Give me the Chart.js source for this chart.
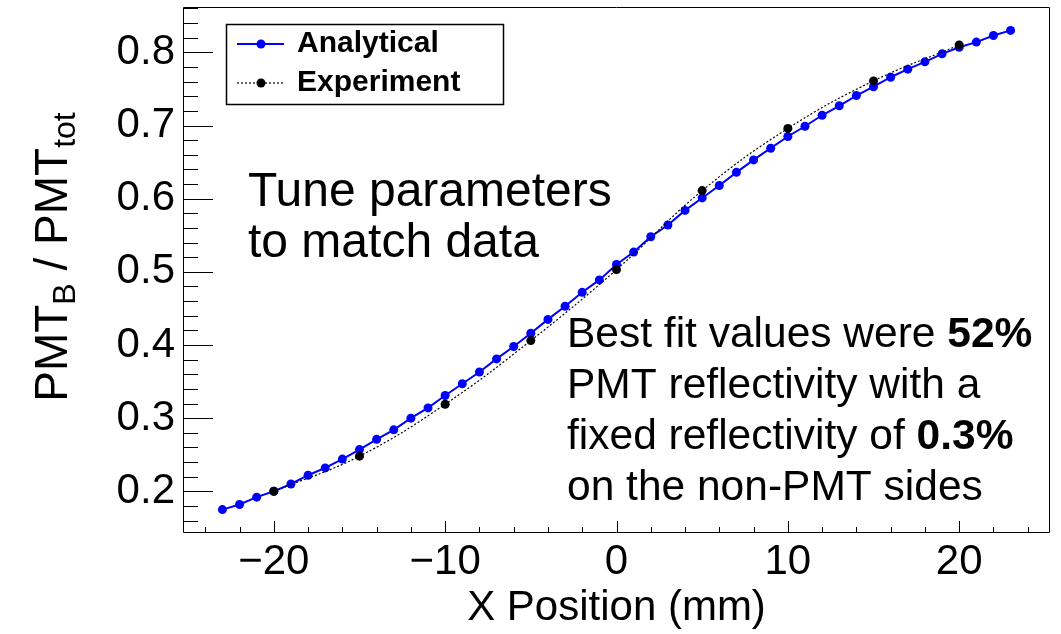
<!DOCTYPE html>
<html><head><meta charset="utf-8">
<script src="https://cdn.jsdelivr.net/npm/chart.js@4"></script>
<style>html,body{margin:0;padding:0;background:#fff;}#wrap{width:1061px;height:634px;}</style>
</head><body><div id="wrap"><canvas id="c" width="1061" height="634"></canvas></div>
<script>
// ---- data ----
const positions = [-23,-22,-21,-20,-19,-18,-17,-16,-15,-14,-13,-12,-11,-10,-9,-8,-7,-6,-5,-4,-3,-2,-1,0,1,2,3,4,5,6,7,8,9,10,11,12,13,14,15,16,17,18,19,20,21,22,23];
const analytical = [0.175,0.182,0.192,0.200,0.210,0.222,0.232,0.244,0.257,0.271,0.284,0.300,0.314,0.331,0.347,0.363,0.381,0.398,0.416,0.435,0.453,0.472,0.489,0.510,0.527,0.548,0.564,0.584,0.601,0.618,0.636,0.653,0.669,0.685,0.699,0.714,0.727,0.741,0.753,0.766,0.777,0.787,0.798,0.807,0.814,0.823,0.830];
const expPositions = [-20,-15,-10,-5,0,5,10,15,20];
const experiment = [0.200,0.248,0.319,0.406,0.503,0.611,0.696,0.761,0.810];
const xTickValues = [-20,-10,0,10,20];
const yTickValues = [0.2,0.3,0.4,0.5,0.6,0.7,0.8];
const seriesNames = ['Analytical','Experiment'];
const xTitle = 'X Position (mm)';
const yTitleParts = [['PMT',false],['B',true],[' / PMT',false],['tot',true]];
const noteLeft = ['Tune parameters','to match data'];
const noteRight = [
  [['Best fit values were ',false],['52%',true]],
  [['PMT reflectivity with a',false]],
  [['fixed reflectivity of ',false],['0.3%',true]],
  [['on the non-PMT sides',false]]
];

const FONT = '"Liberation Sans", Arial, Helvetica, sans-serif';
const X_MIN = -25.3, X_MAX = 25.3, Y_MIN = 0.143, Y_MAX = 0.862;

const rootPlugin = {
  id: 'rootStyle',
  afterDraw(chart) {
    const ctx = chart.ctx, a = chart.chartArea, xs = chart.scales.x, ys = chart.scales.y;
    ctx.save();
    // frame
    ctx.strokeStyle = '#000'; ctx.lineWidth = 1;
    ctx.beginPath();
    ctx.rect(Math.round(a.left) + 0.5, Math.round(a.top) + 0.5, Math.round(a.right - a.left) - 1, Math.round(a.bottom - a.top) - 1);
    ctx.stroke();
    // ticks (inward)
    ctx.beginPath();
    for (let v = -24; v <= 24; v += 2) {
      const px = Math.round(xs.getPixelForValue(v)) + 0.5;
      const len = xTickValues.includes(v) ? 12 : 6;
      ctx.moveTo(px, a.bottom); ctx.lineTo(px, a.bottom - len);
    }
    for (let i = 8; i <= 43; i++) {
      const v = i * 0.02;
      const py = Math.round(ys.getPixelForValue(v)) + 0.5;
      const major = i % 5 === 0;
      const len = major ? 30 : 15;
      ctx.moveTo(a.left, py); ctx.lineTo(a.left + len, py);
    }
    ctx.stroke();

    // y title (rotated, with subscripts)
    ctx.save();
    ctx.translate(67, 257);
    ctx.rotate(-Math.PI / 2);
    ctx.fillStyle = '#000';
    ctx.textBaseline = 'alphabetic';
    let total = 0;
    for (const [t, sub] of yTitleParts) { ctx.font = (sub ? '32px ' : '46px ') + FONT; total += ctx.measureText(t).width; }
    let x = -total / 2;
    ctx.textAlign = 'left';
    for (const [t, sub] of yTitleParts) {
      ctx.font = (sub ? '32px ' : '46px ') + FONT;
      ctx.fillText(t, x, sub ? 8 : 0);
      x += ctx.measureText(t).width;
    }
    ctx.restore();

    // left note
    ctx.fillStyle = '#000'; ctx.textAlign = 'left'; ctx.textBaseline = 'alphabetic';
    ctx.font = '48px ' + FONT;
    noteLeft.forEach((t, i) => ctx.fillText(t, 248, 206 + i * 51));
    // right note
    noteRight.forEach((line, i) => {
      let xx = 567;
      line.forEach(([t, bold]) => {
        ctx.font = (bold ? 'bold ' : '') + '42.5px ' + FONT;
        ctx.fillText(t, xx, 347 + i * 51);
        xx += ctx.measureText(t).width;
      });
    });

    // legend
    ctx.fillStyle = '#fff';
    ctx.fillRect(226, 24, 277, 80);
    ctx.strokeStyle = '#000'; ctx.lineWidth = 1.5;
    ctx.strokeRect(226.5, 24.5, 277, 80);
    const ds = chart.data.datasets;
    const rows = [44, 83];
    seriesNames.forEach((name, i) => {
      const d = ds.find(s => s.label === name);
      const y = rows[i];
      ctx.save();
      ctx.strokeStyle = d.borderColor; ctx.lineWidth = d.borderWidth;
      ctx.setLineDash(d.borderDash || []);
      ctx.beginPath(); ctx.moveTo(237, y); ctx.lineTo(284, y); ctx.stroke();
      ctx.setLineDash([]);
      ctx.fillStyle = d.pointBackgroundColor;
      ctx.beginPath(); ctx.arc(261, y, d.pointRadius, 0, Math.PI * 2); ctx.fill();
      ctx.restore();
      ctx.fillStyle = '#000';
      ctx.font = 'bold 30px ' + FONT;
      ctx.textBaseline = 'middle';
      ctx.fillText(name, 297, y);
    });
    ctx.restore();
  }
};

new Chart(document.getElementById('c'), {
  type: 'scatter',
  data: {
    datasets: [
      {
        label: 'Experiment',
        data: expPositions.map((x, i) => ({ x, y: experiment[i] })),
        showLine: true, borderColor: '#000', borderWidth: 1.2, borderDash: [2, 2],
        tension: 0.4, pointRadius: 4.5, pointBackgroundColor: '#000', pointBorderWidth: 0,
        order: 0
      },
      {
        label: 'Analytical',
        data: positions.map((x, i) => ({ x, y: analytical[i] })),
        showLine: true, borderColor: '#0000ff', borderWidth: 2,
        tension: 0, pointRadius: 4.5, pointBackgroundColor: '#0000ff', pointBorderWidth: 0,
        order: 1
      }
    ]
  },
  options: {
    responsive: false, animation: false, devicePixelRatio: 1, events: [],
    layout: { padding: { top: 7, right: 11, left: 0, bottom: 0 } },
    plugins: { legend: { display: false }, tooltip: { enabled: false } },
    scales: {
      x: {
        type: 'linear', min: X_MIN, max: X_MAX,
        grid: { display: false, drawTicks: false }, border: { display: false },
        afterBuildTicks: s => { s.ticks = xTickValues.map(v => ({ value: v })); },
        afterFit: s => { s.height = 101; s.paddingLeft = 0; s.paddingRight = 0; },
        ticks: {
          color: '#000', font: { family: FONT, size: 42 }, padding: 4, maxRotation: 0, autoSkip: false,
          callback: v => (v < 0 ? '\u2212' + Math.abs(v) : String(v))
        },
        title: { display: true, text: xTitle, color: '#000', font: { family: FONT, size: 42 }, padding: { top: 0, bottom: 0 } }
      },
      y: {
        type: 'linear', min: Y_MIN, max: Y_MAX,
        grid: { display: false, drawTicks: false }, border: { display: false },
        afterBuildTicks: s => { s.ticks = yTickValues.map(v => ({ value: v })); },
        afterFit: s => { s.width = 183; s.paddingTop = 0; s.paddingBottom = 0; },
        ticks: {
          color: '#000', font: { family: FONT, size: 42 }, padding: 8, autoSkip: false,
          callback: v => Number(v).toFixed(1)
        }
      }
    }
  },
  plugins: [rootPlugin]
});
</script></body></html>
